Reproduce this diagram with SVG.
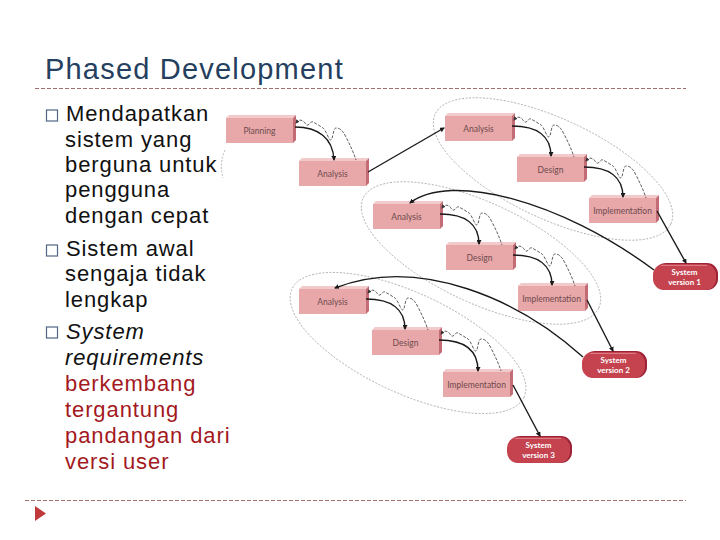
<svg xmlns="http://www.w3.org/2000/svg" xmlns:xlink="http://www.w3.org/1999/xlink" width="720" height="540" viewBox="0 0 720 540">
<style>
.title{font-family:"Liberation Sans",Arial,sans-serif;font-size:29px;fill:#24405E;letter-spacing:1.2px}
.body{font-family:"Liberation Sans",Arial,sans-serif;font-size:22px;fill:#111;letter-spacing:0.9px}
.red{fill:#A3191E}
.bul{fill:none;stroke:#4F6784;stroke-width:1.2}
.sep{stroke:#A07070;stroke-width:1;stroke-dasharray:4 2;fill:none}
.face{fill:#E8A8AA}
.top{fill:#F3CACB}
.side{fill:#C46C75}
.lbl{font-family:Lato,"Open Sans",sans-serif;font-size:8.5px;fill:#6E4A4C;text-anchor:middle}
.sys{font-family:Lato,"Open Sans",sans-serif;font-size:8px;font-weight:bold;fill:#FFFFFF;text-anchor:middle}
.ell{fill:none;stroke:#9A9A9A;stroke-width:0.7;stroke-dasharray:2 1.5}
.arr{fill:none;stroke:#1A1A1A;stroke-width:1.4;marker-end:url(#ah)}
.wav{fill:none;stroke:#333;stroke-width:0.8;stroke-dasharray:3 1.5;marker-start:url(#wh)}
</style>
<defs>
<marker id="ah" viewBox="0 0 10 10" refX="8" refY="5" markerWidth="5" markerHeight="5" orient="auto" markerUnits="userSpaceOnUse"><path d="M0,0 L10,5 L0,10 z" fill="#1A1A1A"/></marker>
<marker id="wh" viewBox="0 0 10 10" refX="8" refY="5" markerWidth="4" markerHeight="4" orient="auto-start-reverse" markerUnits="userSpaceOnUse"><path d="M0,0 L10,5 L0,10 z" fill="#333"/></marker>
<g id="box"><polygon class="top" points="0,0 3,-3 70,-3 67,0"/><polygon class="side" points="67,0 70,-3 70,22 67,25"/><rect class="face" width="67" height="25"/></g>
<g id="pill"><rect x="2" y="-1" width="63" height="27" rx="11" fill="#9E2236"/><rect width="63" height="26" rx="11" fill="#C4434F"/><path d="M8,1.5 H54" stroke="#D97A84" stroke-width="1.2"/></g>
<path id="wave" d="M0,0 C3,-4 5,-3 7,-2 S10,3 12,2 S15,-2 17,-1 S24,3 27,5 S33,18 35,17 S37,5 40,5 S46,6 50,14 S57,28 60,37"/>
</defs>

<text class="title" x="45" y="79">Phased Development</text>
<path class="sep" d="M35,88.5 H686"/>
<path class="sep" d="M25,500.5 H686"/>
<polygon points="35,506 46,513.5 35,521" fill="#C0393B"/>

<g id="bullets">
<rect class="bul" x="46.5" y="110" width="11" height="11"/>
<rect class="bul" x="46.5" y="245" width="11" height="11"/>
<rect class="bul" x="46.5" y="327" width="11" height="11"/>
<text class="body" x="66" y="121">Mendapatkan</text>
<text class="body" x="65" y="147">sistem yang</text>
<text class="body" x="65" y="172">berguna untuk</text>
<text class="body" x="65" y="197">pengguna</text>
<text class="body" x="65" y="223">dengan cepat</text>
<text class="body" x="66" y="256">Sistem awal</text>
<text class="body" x="65" y="281">sengaja tidak</text>
<text class="body" x="65" y="307">lengkap</text>
<text class="body" x="66" y="339" font-style="italic">System</text>
<text class="body" x="65" y="365" font-style="italic">requirements</text>
<text class="body red" x="65" y="391">berkembang</text>
<text class="body red" x="65" y="417">tergantung</text>
<text class="body red" x="65" y="443">pandangan dari</text>
<text class="body red" x="65" y="469">versi user</text>
</g>

<g id="ellipses">
<ellipse class="ell" cx="553" cy="169" rx="130" ry="50" transform="rotate(25 553 169)"/>
<ellipse class="ell" cx="481" cy="253" rx="130" ry="50" transform="rotate(25 481 253)"/>
<ellipse class="ell" cx="408" cy="343" rx="128" ry="50" transform="rotate(25 408 343)"/>
<path class="ell" d="M225,150 Q219,163 223,178"/>
</g>

<g id="planning" transform="translate(226,118)"><use xlink:href="#box"/><text class="lbl" x="33.5" y="16">Planning</text></g>
<g id="analysis0" transform="translate(299,161)"><use xlink:href="#box"/><text class="lbl" x="33.5" y="16">Analysis</text></g>
<g id="analysis1" transform="translate(445,116)"><use xlink:href="#box"/><text class="lbl" x="33.5" y="16">Analysis</text></g>
<g id="design1" transform="translate(517,157)"><use xlink:href="#box"/><text class="lbl" x="33.5" y="16">Design</text></g>
<g id="impl1" transform="translate(589,198)"><use xlink:href="#box"/><text class="lbl" x="33.5" y="16">Implementation</text></g>
<g id="analysis2" transform="translate(373,204)"><use xlink:href="#box"/><text class="lbl" x="33.5" y="16">Analysis</text></g>
<g id="design2" transform="translate(446,245)"><use xlink:href="#box"/><text class="lbl" x="33.5" y="16">Design</text></g>
<g id="impl2" transform="translate(518,286)"><use xlink:href="#box"/><text class="lbl" x="33.5" y="16">Implementation</text></g>
<g id="analysis3" transform="translate(299,289)"><use xlink:href="#box"/><text class="lbl" x="33.5" y="16">Analysis</text></g>
<g id="design3" transform="translate(372,330)"><use xlink:href="#box"/><text class="lbl" x="33.5" y="16">Design</text></g>
<g id="impl3" transform="translate(443,372)"><use xlink:href="#box"/><text class="lbl" x="33.5" y="16">Implementation</text></g>
<g id="sys1" transform="translate(653,264)"><use xlink:href="#pill"/><text class="sys" x="31.5" y="11">System</text><text class="sys" x="31.5" y="21">version 1</text></g>
<g id="sys2" transform="translate(582,352)"><use xlink:href="#pill"/><text class="sys" x="31.5" y="11">System</text><text class="sys" x="31.5" y="21">version 2</text></g>
<g id="sys3" transform="translate(507,437)"><use xlink:href="#pill"/><text class="sys" x="31.5" y="11">System</text><text class="sys" x="31.5" y="21">version 3</text></g>

<g id="connectors">
<path class="arr" d="M295,127 C318,127 333,138 334,160"/>
<path class="arr" d="M512,126 C537,126 551,136 551,156"/>
<path class="arr" d="M584,167 C609,167 623,177 623,197"/>
<path class="arr" d="M440,214 C465,214 479,224 479,244"/>
<path class="arr" d="M513,255 C538,255 552,265 552,285"/>
<path class="arr" d="M366,299 C391,299 405,309 405,329"/>
<path class="arr" d="M439,340 C464,340 478,350 478,371"/>
<use class="wav" xlink:href="#wave" transform="translate(296,123)"/>
<use class="wav" xlink:href="#wave" transform="translate(514,120)"/>
<use class="wav" xlink:href="#wave" transform="translate(586,161)"/>
<use class="wav" xlink:href="#wave" transform="translate(442,208)"/>
<use class="wav" xlink:href="#wave" transform="translate(515,249)"/>
<use class="wav" xlink:href="#wave" transform="translate(368,293)"/>
<use class="wav" xlink:href="#wave" transform="translate(441,334)"/>
<path class="arr" d="M368,172 L444,128"/>
<path class="arr" d="M657,211 L686,263"/>
<path class="arr" d="M587,300 L613,351"/>
<path class="arr" d="M513,385 L540,436"/>
<path class="arr" d="M654,270 C560,200 450,172 410,203"/>
<path class="arr" d="M583,357 C520,300 420,255 335,288"/>
</g>
</svg>
